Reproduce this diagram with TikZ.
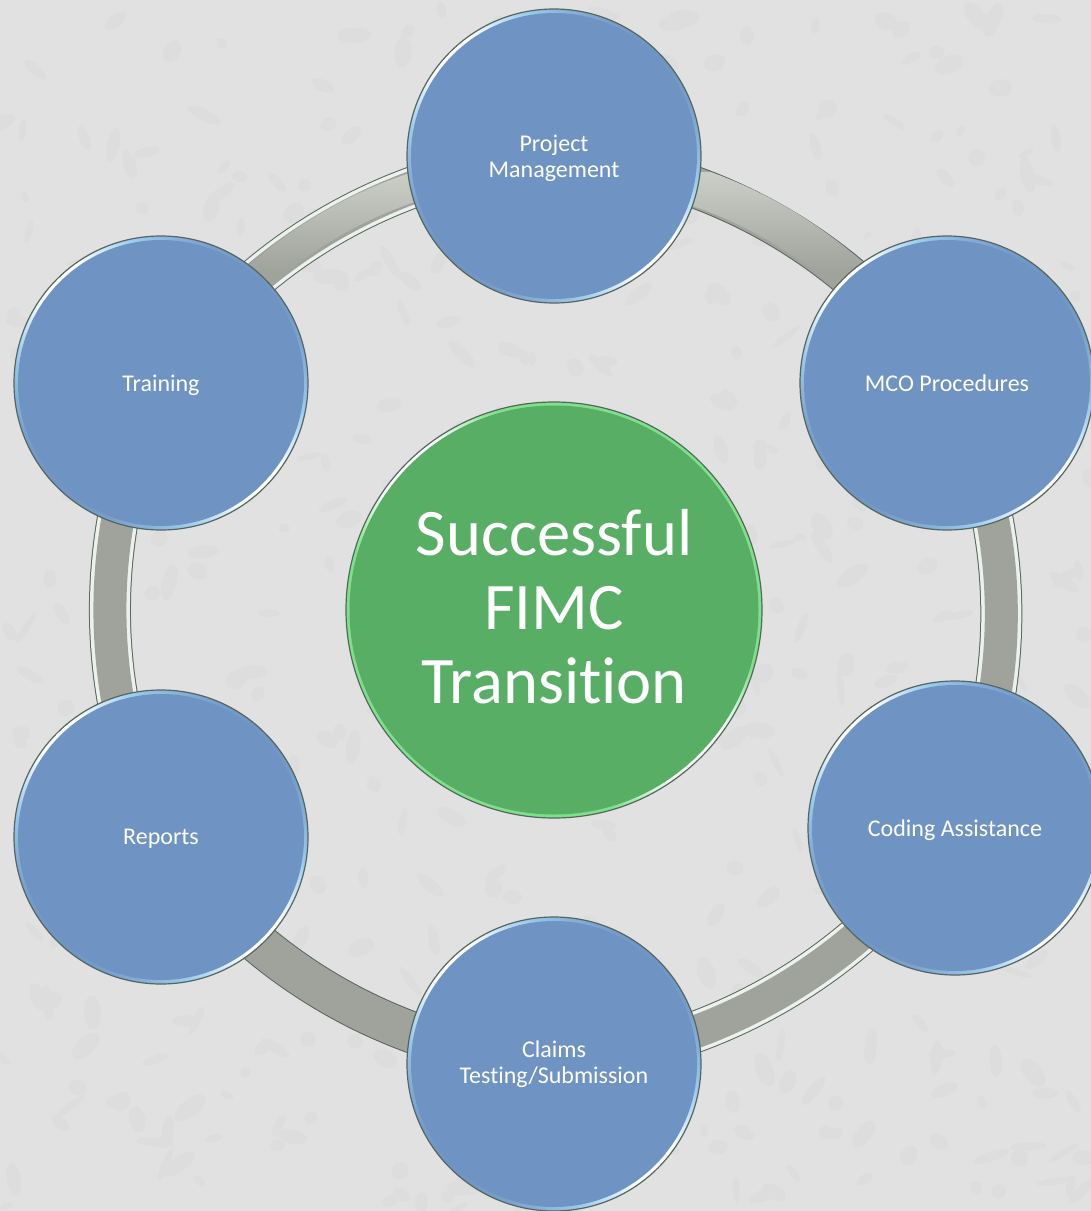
\documentclass[tikz,border=0pt]{standalone}
\usepackage{fontspec}
\setmainfont[Ligatures=NoCommon]{Carlito}
\definecolor{pagegray}{HTML}{E1E1E1}
\definecolor{blotgray}{HTML}{DDDDDD}
\definecolor{edgegray}{HTML}{55665F}
\definecolor{ringgray}{HTML}{9FA39C}
\definecolor{ringlight}{HTML}{CBCFC8}
\definecolor{ringstreak}{HTML}{EDF1EC}
\definecolor{nodeblue}{HTML}{6F94C3}
\definecolor{skyblue}{HTML}{9CCBEE}
\definecolor{nodegreen}{HTML}{57AE64}
\definecolor{limegreen}{HTML}{7FE08A}
\pgfdeclarehorizontalshading{rimblue}{100bp}{color(0bp)=(nodeblue); color(25bp)=(nodeblue); color(36bp)=(skyblue); color(46bp)=(white); color(54bp)=(white); color(64bp)=(skyblue); color(75bp)=(nodeblue); color(100bp)=(nodeblue)}
\pgfdeclarehorizontalshading{rimgreen}{100bp}{color(0bp)=(limegreen); color(25bp)=(limegreen); color(38bp)=(limegreen); color(46bp)=(white); color(54bp)=(white); color(62bp)=(limegreen); color(75bp)=(limegreen); color(100bp)=(limegreen)}
\pgfdeclarelayer{bg}
\pgfsetlayers{bg,main}
\begin{document}
\begin{tikzpicture}[x=1pt,y=-1pt,
main node/.style={circle,draw=edgegray,line width=1.2pt,inner sep=0pt,minimum size=294pt,align=center,text=white,font=\fontsize{24}{26}\selectfont,text depth=0pt,
  shade,shading=rimblue,shading angle=45,
  path picture={\fill[nodeblue] (path picture bounding box.center) circle (143pt);}},
hub node/.style={circle,draw=edgegray,line width=1.2pt,inner sep=0pt,minimum size=416pt,align=center,text=white,font=\fontsize{66.5}{74}\selectfont,text depth=7pt,
  shade,shading=rimgreen,shading angle=45,
  path picture={\fill[nodegreen] (path picture bounding box.center) circle (204.5pt);}},
plain arc/.style={line width=42pt,draw=edgegray,postaction={draw=ringgray,line width=40pt}},
streak arc/.style={line width=42pt,draw=edgegray,postaction={draw=ringstreak,line width=40pt},postaction={draw=ringgray,line width=33pt}}]
\useasboundingbox (0,0) rectangle (1091,1211);
\node[hub node] (vHub) at (554,610) {Successful\\FIMC\\Transition};
\node[main node] (vProject) at (554,156) {Project\\Management};
\node[main node] (vMco) at (947,383) {MCO Procedures};
\node[main node] (vCoding) at (955,828) {Coding Assistance};
\node[main node,text depth=3pt] (vClaims) at (554,1064) {Claims\\Testing/Submission};
\node[main node] (vReports) at (161,837) {Reports};
\node[main node] (vTraining) at (161,383) {Training};
\begin{pgfonlayer}{bg}
\fill[pagegray] (0,0) rectangle (1091,1211);
% mottled page
\pgfmathsetseed{11}
\foreach \b in {1,...,520}{
\pgfmathsetmacro\bx{rnd*1091}
\pgfmathsetmacro\by{rnd*1211}
\pgfmathsetmacro\ba{5+rnd*14}
\pgfmathsetmacro\bb{3+rnd*6}
\pgfmathsetmacro\br{rnd*180}
\fill[blotgray,rotate around={\br:(\bx,\by)}] (\bx,\by) ellipse (\ba pt and \bb pt);
}
\draw[plain arc] (vProject.center) to[bend left=25,looseness=.91] (vMco.center);
\draw[streak arc] (vMco.center) to[bend left=25,looseness=.91] (vCoding.center);
\draw[streak arc] (vCoding.center) to[bend left=25,looseness=.91] (vClaims.center);
\draw[plain arc] (vClaims.center) to[bend left=25,looseness=.91] (vReports.center);
\draw[streak arc] (vReports.center) to[bend left=25,looseness=.91] (vTraining.center);
\draw[streak arc] (vTraining.center) to[bend left=25,looseness=.91] (vProject.center);
% lighter upper ends
\begin{scope}[even odd rule]
\clip (554,150) rectangle (880,290);
\clip (vHub.center) circle (465pt) (vHub.center) circle (427pt);
\shade[top color=ringlight,bottom color=ringgray] (554,172) rectangle (880,272);
\end{scope}
\begin{scope}[even odd rule]
\clip (554,150) rectangle (230,290);
\clip (vHub.center) circle (460pt) (vHub.center) circle (431pt);
\shade[top color=ringlight,bottom color=ringgray] (554,172) rectangle (230,272);
\end{scope}
\end{pgfonlayer}
\end{tikzpicture}
\end{document}
